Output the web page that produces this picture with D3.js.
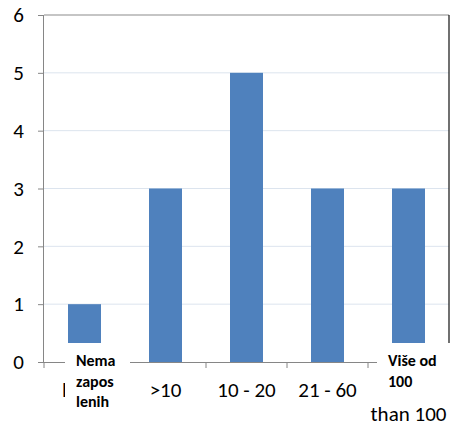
<!DOCTYPE html>
<html><head><meta charset="utf-8">
<script src="https://cdn.jsdelivr.net/npm/d3@7"></script>
<style>body{margin:0;background:#fff}svg{display:block}</style>
</head><body>
<svg id="c" width="450" height="427"></svg>
<script>
const categories = ["c1", "c2", "c3", "c4", "c5"];
const tickLabels = ["l", ">10", "10 - 20", "21 - 60", "than 100"];
const values = [1, 3, 5, 3, 3];
const yTicks = [0, 1, 2, 3, 4, 5, 6];
const boxLabels = [["Nema", "zapos", "lenih"], ["Više od", "100"]];

const svg = d3.select("#c");
const L = 44, R = 449, T = 15, B = 362;
const font = "Carlito, Calibri, 'Liberation Sans', sans-serif";
const x = d3.scaleBand().domain(categories).range([L, R]).paddingInner(48/81).paddingOuter(24/81);
const xs = d3.scaleBand().domain(categories).range([L, R]).padding(0);
const y = d3.scaleLinear().domain([0, 6]).range([B, T]);

// gridlines
svg.append("g").selectAll("line").data(yTicks.filter(d => d > 0 && d < 6)).join("line")
  .attr("x1", L).attr("x2", R).attr("y1", d => y(d)).attr("y2", d => y(d))
  .attr("stroke", "#dce4ee").attr("stroke-width", 1);

// top and right border
svg.append("line").attr("x1", L).attr("x2", R).attr("y1", y(6)).attr("y2", y(6)).attr("stroke", "#8c8c8c").attr("stroke-width", 1.2);
svg.append("line").attr("x1", R).attr("x2", R).attr("y1", y(6)).attr("y2", B).attr("stroke", "#111").attr("stroke-width", 1.2);

// bars
svg.append("g").selectAll("rect").data(values).join("rect")
  .attr("x", (d, i) => x(categories[i])).attr("width", x.bandwidth())
  .attr("y", d => y(d)).attr("height", d => B - y(d))
  .attr("fill", "#4f81bd");

// y axis
const ya = svg.append("g").attr("transform", `translate(${L},0)`)
  .call(d3.axisLeft(y).tickValues(yTicks).tickFormat(d3.format("d")).tickSize(6).tickPadding(14));
ya.select(".domain").attr("stroke", "#868686").attr("d", `M-0.5,${B}V${T}`);
ya.selectAll(".tick line").attr("stroke", "#868686");
ya.selectAll("text").attr("font-family", font).attr("font-size", 21).attr("fill", "#000");

// x axis
const xa = svg.append("g").attr("transform", `translate(0,${B})`)
  .call(d3.axisBottom(xs).tickSize(0).tickFormat(""));
xa.select(".domain").attr("stroke", "#868686").attr("d", `M${L},0.5H${R}`);
xa.selectAll(".tick").remove();
const xTickPos = [L].concat(categories.map(c => xs(c) + xs.bandwidth()));
xa.selectAll("line.t").data(xTickPos).join("line").attr("class", "t")
  .attr("x1", d => d).attr("x2", d => d).attr("y1", 0).attr("y2", 6).attr("stroke", "#868686");

// category labels
const labY = [397, 397, 397, 397, 421];
svg.append("g").selectAll("text").data(tickLabels).join("text")
  .attr("x", (d, i) => i === 0 ? 62 : xs(categories[i]) + xs.bandwidth() / 2)
  .attr("y", (d, i) => labY[i])
  .attr("text-anchor", (d, i) => i === 0 ? "start" : "middle")
  .attr("font-family", font).attr("font-size", 21).attr("fill", "#000")
  .text(d => d);

// white overlay boxes with bold labels
const boxes = [{x0: 65, x1: 130, y0: 343, y1: 416, tx: 76, lines: boxLabels[0]},
               {x0: 377, x1: 450, y0: 343, y1: 400, tx: 388, lines: boxLabels[1]}];
boxes.forEach(b => {
  svg.append("rect").attr("x", b.x0).attr("y", b.y0).attr("width", b.x1 - b.x0).attr("height", b.y1 - b.y0).attr("fill", "#fff");
  b.lines.forEach((t, j) => {
    svg.append("text").attr("x", b.tx).attr("y", 366 + j * 20.5)
      .attr("font-family", font).attr("font-size", 16).attr("font-weight", "bold").attr("fill", "#000").text(t);
  });
});
</script>
</body></html>
